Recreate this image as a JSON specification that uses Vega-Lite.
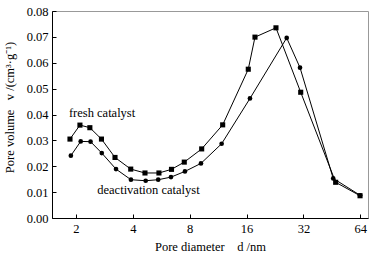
{
  "$schema": "https://vega.github.io/schema/vega-lite/v6.json",
  "width": 316,
  "height": 207,
  "autosize": {"type": "none"},
  "padding": {"left": 52, "top": 11, "right": 8, "bottom": 37},
  "background": "white",
  "datasets": {
    "pore": [
      {"series": "fresh", "d": 1.86, "v": 0.0305},
      {"series": "fresh", "d": 2.10, "v": 0.0359},
      {"series": "fresh", "d": 2.37, "v": 0.0349},
      {"series": "fresh", "d": 2.73, "v": 0.0305},
      {"series": "fresh", "d": 3.22, "v": 0.0234},
      {"series": "fresh", "d": 3.90, "v": 0.0189},
      {"series": "fresh", "d": 4.64, "v": 0.0174},
      {"series": "fresh", "d": 5.50, "v": 0.0174},
      {"series": "fresh", "d": 6.41, "v": 0.0188},
      {"series": "fresh", "d": 7.49, "v": 0.0216},
      {"series": "fresh", "d": 9.26, "v": 0.0267},
      {"series": "fresh", "d": 11.96, "v": 0.0360},
      {"series": "fresh", "d": 16.34, "v": 0.0575},
      {"series": "fresh", "d": 17.73, "v": 0.0699},
      {"series": "fresh", "d": 22.90, "v": 0.0735},
      {"series": "fresh", "d": 30.96, "v": 0.0486},
      {"series": "fresh", "d": 47.4, "v": 0.0138},
      {"series": "fresh", "d": 63.8, "v": 0.0086},
      {"series": "deactivation", "d": 1.88, "v": 0.0241},
      {"series": "deactivation", "d": 2.12, "v": 0.0296},
      {"series": "deactivation", "d": 2.39, "v": 0.0295},
      {"series": "deactivation", "d": 2.74, "v": 0.0251},
      {"series": "deactivation", "d": 3.26, "v": 0.0189},
      {"series": "deactivation", "d": 3.91, "v": 0.0148},
      {"series": "deactivation", "d": 4.68, "v": 0.0144},
      {"series": "deactivation", "d": 5.45, "v": 0.0148},
      {"series": "deactivation", "d": 6.37, "v": 0.0158},
      {"series": "deactivation", "d": 7.55, "v": 0.0180},
      {"series": "deactivation", "d": 9.18, "v": 0.0211},
      {"series": "deactivation", "d": 11.81, "v": 0.0287},
      {"series": "deactivation", "d": 16.68, "v": 0.0462},
      {"series": "deactivation", "d": 26.1, "v": 0.0696},
      {"series": "deactivation", "d": 30.7, "v": 0.0581},
      {"series": "deactivation", "d": 46.0, "v": 0.0153},
      {"series": "deactivation", "d": 63.8, "v": 0.0088}
    ],
    "labels": [
      {"label": "fresh catalyst", "d": 2.75, "v": 0.0405},
      {"label": "deactivation catalyst", "d": 4.84, "v": 0.0109}
    ]
  },
  "encoding": {
    "x": {
      "field": "d", "type": "quantitative",
      "scale": {"type": "log", "base": 2, "domain": [1.494, 70.3], "nice": false},
      "axis": {"values": [2, 4, 8, 16, 32, 64], "format": "d", "title": "Pore diameter\u00a0\u00a0\u00a0\u00a0d\u00a0/nm", "titlePadding": 6, "labelOverlap": false}
    },
    "y": {
      "field": "v", "type": "quantitative",
      "scale": {"domain": [0, 0.08], "nice": false},
      "axis": {"values": [0, 0.01, 0.02, 0.03, 0.04, 0.05, 0.06, 0.07, 0.08], "format": ".2f", "labelOverlap": false, "title": "Pore volume\u00a0\u00a0\u00a0v\u00a0/(cm³·g⁻¹)", "titleX": -36, "titleY": 96}
    }
  },
  "layer": [
    {
      "data": {"name": "pore"},
      "mark": {"type": "line", "color": "black", "strokeWidth": 1},
      "encoding": {
        "detail": {"field": "series"}
      }
    },
    {
      "data": {"name": "pore"},
      "mark": {"type": "point", "filled": true, "opacity": 1, "color": "black"},
      "encoding": {
        "shape": {
          "field": "series", "type": "nominal",
          "scale": {"domain": ["fresh", "deactivation"], "range": ["square", "circle"]},
          "legend": null
        },
        "size": {
          "field": "series", "type": "nominal",
          "scale": {"domain": ["fresh", "deactivation"], "range": [26, 22]},
          "legend": null
        }
      }
    },
    {
      "data": {"name": "labels"},
      "mark": {"type": "text", "font": "Liberation Serif", "fontSize": 12.5, "color": "black", "align": "center", "baseline": "middle"},
      "encoding": {
        "text": {"field": "label"}
      }
    }
  ],
  "config": {
    "view": {"stroke": "#999999", "strokeWidth": 1},
    "axis": {
      "grid": false,
      "domainColor": "black",
      "tickColor": "black",
      "tickSize": -4,
      "labelFont": "Liberation Serif",
      "labelFontSize": 12.5,
      "labelColor": "black",
      "titleFont": "Liberation Serif",
      "titleFontSize": 12.5,
      "titleFontWeight": "normal",
      "titleColor": "black"
    },
    "axisY": {"labelPadding": 8},
    "axisX": {"labelPadding": 8}
  }
}
